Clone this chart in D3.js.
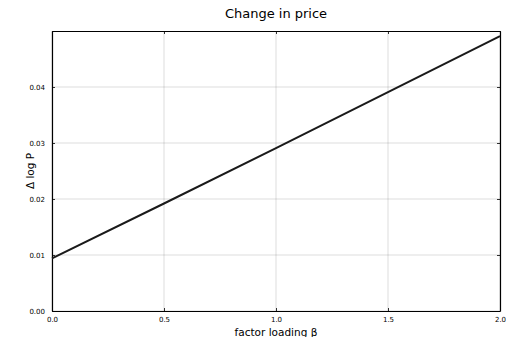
<!DOCTYPE html>
<html>
<head>
<meta charset="utf-8">
<script src="https://cdn.jsdelivr.net/npm/d3@7"></script>
<style>
  body { margin: 0; background: #fff; }
  text { font-family: "DejaVu Sans", sans-serif; }
</style>
</head>
<body>
<div id="chart"></div>
<script>
// data
const betaValues = [0.0, 0.5, 1.0, 1.5, 2.0];
const dlogP = [0.0094, 0.0192, 0.0291, 0.0391, 0.0491];
const xTicks = [0.0, 0.5, 1.0, 1.5, 2.0];
const yTicks = [0.00, 0.01, 0.02, 0.03, 0.04];

const W = 506, H = 337;
const margin = {top: 31, right: 6, bottom: 26, left: 52};
const width = W - margin.left - margin.right;
const height = H - margin.top - margin.bottom;

const x = d3.scaleLinear().domain([0, 2]).range([0, width]);
const y = d3.scaleLinear().domain([0, 0.05]).range([height, 0]);

const svg = d3.select("#chart").append("svg")
    .attr("width", W)
    .attr("height", H);

const g = svg.append("g")
    .attr("transform", `translate(${margin.left},${margin.top})`);

// grid
g.append("g")
    .selectAll("line")
    .data(xTicks)
    .join("line")
    .attr("x1", d => x(d)).attr("x2", d => x(d))
    .attr("y1", 0).attr("y2", height)
    .attr("stroke", "#000").attr("stroke-opacity", 0.17).attr("stroke-width", 0.8);

g.append("g")
    .selectAll("line")
    .data(yTicks)
    .join("line")
    .attr("x1", 0).attr("x2", width)
    .attr("y1", d => y(d)).attr("y2", d => y(d))
    .attr("stroke", "#000").attr("stroke-opacity", 0.17).attr("stroke-width", 0.8);

// axes (box frame, inward ticks)
const fmtX = d3.format(".1f");
const fmtY = d3.format(".2f");

const xAxis = g.append("g")
    .attr("transform", `translate(0,${height})`)
    .call(d3.axisBottom(x).tickValues(xTicks).tickFormat(fmtX).tickSizeInner(-3).tickSizeOuter(0).tickPadding(6));
const yAxis = g.append("g")
    .call(d3.axisLeft(y).tickValues(yTicks).tickFormat(fmtY).tickSizeInner(-3).tickSizeOuter(0).tickPadding(7));
const xTop = g.append("g")
    .call(d3.axisTop(x).tickValues(xTicks).tickFormat("").tickSizeInner(-3).tickSizeOuter(0));
const yRight = g.append("g")
    .attr("transform", `translate(${width},0)`)
    .call(d3.axisRight(y).tickValues(yTicks).tickFormat("").tickSizeInner(-3).tickSizeOuter(0));

[xAxis, yAxis, xTop, yRight].forEach(a => {
    a.select(".domain").attr("stroke", "#000").attr("stroke-width", 1.2);
    a.selectAll(".tick line").attr("stroke", "#000").attr("stroke-width", 0.8);
    a.selectAll("text")
        .attr("fill", "#000")
        .style("font-family", "DejaVu Sans, sans-serif")
        .style("font-size", "7px");
});

// the line
const line = d3.line()
    .x((d, i) => x(betaValues[i]))
    .y(d => y(d));

g.append("path")
    .datum(dlogP)
    .attr("fill", "none")
    .attr("stroke", "#1a1a1a")
    .attr("stroke-width", 2)
    .attr("d", line);

// title
svg.append("text")
    .attr("x", margin.left + width / 2)
    .attr("y", 18)
    .attr("text-anchor", "middle")
    .style("font-size", "13px")
    .text("Change in price");

// axis labels
svg.append("text")
    .attr("x", margin.left + width / 2)
    .attr("y", 336)
    .attr("text-anchor", "middle")
    .style("font-size", "10.5px")
    .text("factor loading β");

svg.append("text")
    .attr("transform", `translate(34,${margin.top + height / 2}) rotate(-90)`)
    .attr("text-anchor", "middle")
    .style("font-size", "10.5px")
    .text("Δ log P");
</script>
</body>
</html>
